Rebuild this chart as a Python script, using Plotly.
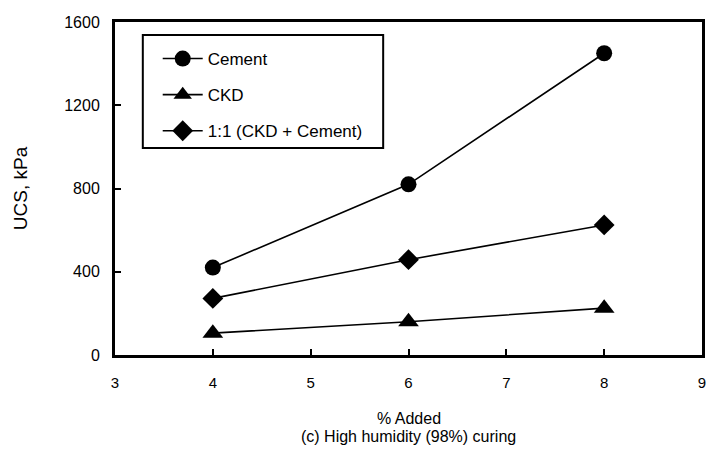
import plotly.graph_objects as go

pct_added = [4, 6, 8]
cement = [420, 820, 1450]
ckd = [105, 160, 225]
mix = [272, 458, 625]

series = [
    ("Cement", cement, "circle", 16),
    ("CKD", ckd, "triangle-up", 18),
    ("1:1 (CKD + Cement)", mix, "diamond", 16),
]

fig = go.Figure()
for name, vals, sym, sz in series:
    fig.add_trace(go.Scatter(
        x=pct_added, y=vals, name=name, mode="lines+markers",
        legendgroup=name,
        line=dict(color="black", width=1.6),
        marker=dict(symbol=sym, size=sz, color="black"),
    ))

font = "Liberation Sans, Arial, sans-serif"
L, R, T, B = 115, 9, 22, 98
W, H = 715, 453
pw, ph = W - L - R, H - T - B


def px(x):
    return (x - L) / pw


def py(y):
    return (H - B - y) / ph


fig.update_layout(
    width=W, height=H,
    margin=dict(l=L, r=R, t=T, b=B),
    plot_bgcolor="white", paper_bgcolor="white",
    font=dict(family=font, size=15, color="black"),
    showlegend=True,
    legend=dict(
        x=px(158), y=py(41), xanchor="left", yanchor="top",
        borderwidth=0, bgcolor="rgba(0,0,0,0)",
        font=dict(size=17), tracegroupgap=11, itemwidth=40,
    ),
    xaxis=dict(
        range=[3, 9], dtick=1, ticks="inside", ticklen=6, tickwidth=2,
        tickcolor="black", showline=True, linecolor="black", linewidth=3,
        mirror=True, showgrid=False, zeroline=False,
        tickfont=dict(size=15), ticklabelstandoff=12,
    ),
    yaxis=dict(
        range=[0, 1600], dtick=400, ticks="inside", ticklen=6, tickwidth=2,
        tickcolor="black", showline=True, linecolor="black", linewidth=3,
        mirror=True, showgrid=False, zeroline=False,
        tickfont=dict(size=16), ticklabelstandoff=9,
    ),
    shapes=[
        dict(type="rect", xref="paper", yref="paper",
             x0=px(143), x1=px(385), y0=py(148), y1=py(35),
             line=dict(color="black", width=2), fillcolor="rgba(0,0,0,0)"),
    ],
    annotations=[
        dict(text="UCS, kPa", x=px(20), y=0.5, xref="paper", yref="paper",
             xanchor="center", yanchor="middle", textangle=-90,
             showarrow=False, font=dict(size=19)),
        dict(text="% Added", x=0.5, y=py(418), xref="paper", yref="paper",
             xanchor="center", yanchor="middle", showarrow=False,
             font=dict(size=16)),
        dict(text="(c) High humidity (98%) curing", x=0.5, y=py(436),
             xref="paper", yref="paper", xanchor="center", yanchor="middle",
             showarrow=False, font=dict(size=16)),
    ],
)

fig.write_html("out.html")
